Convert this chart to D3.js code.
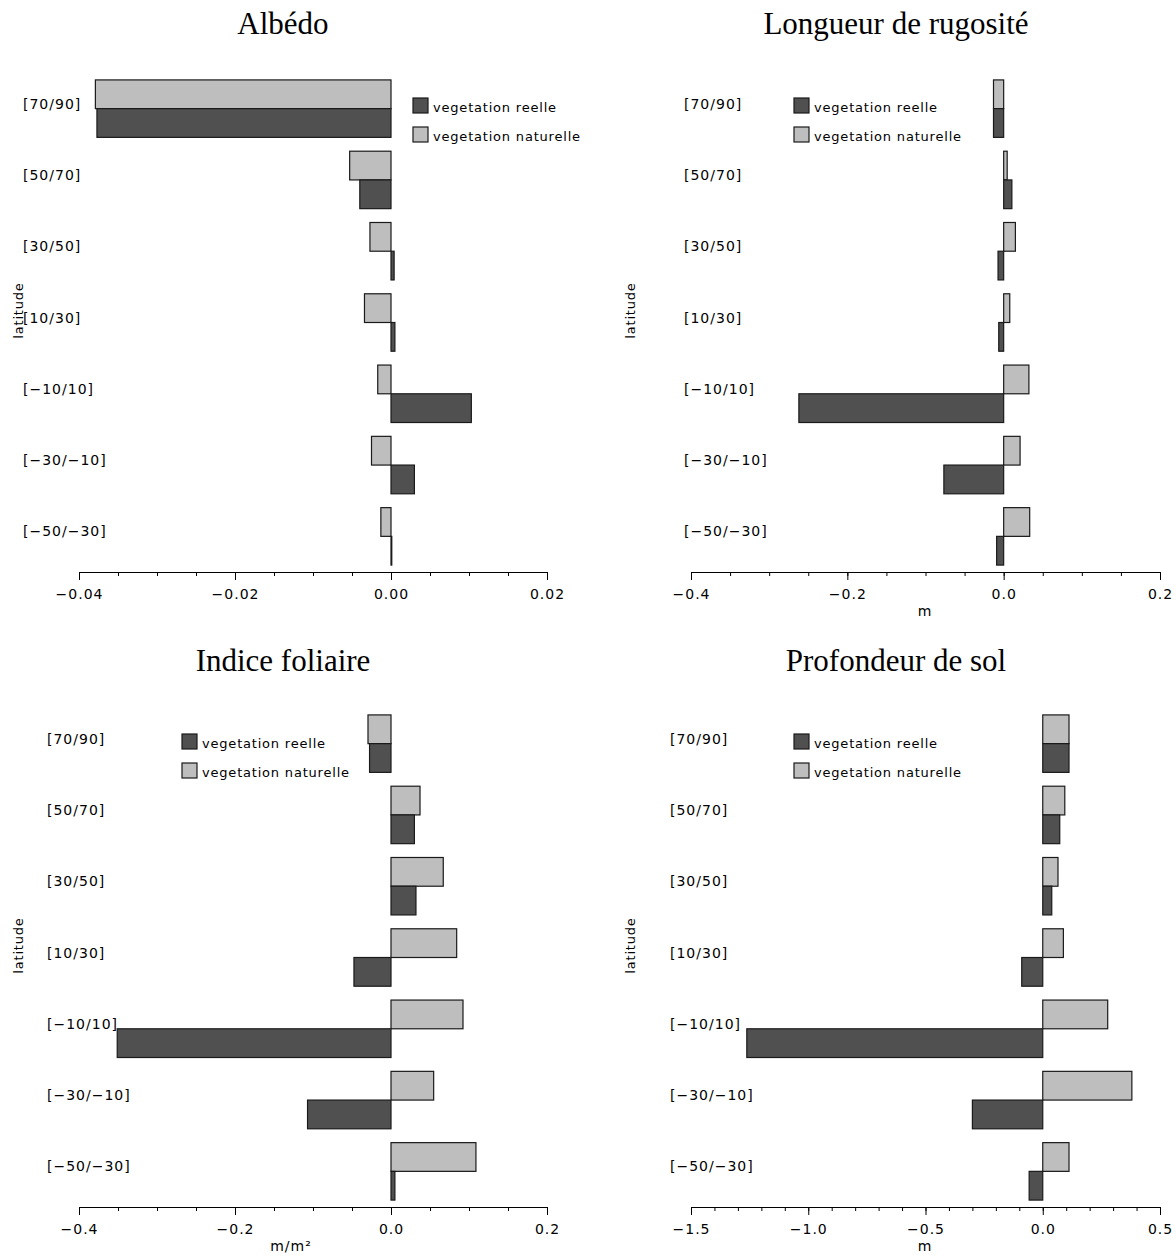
<!DOCTYPE html>
<html><head><meta charset="utf-8">
<script src="https://cdn.jsdelivr.net/npm/d3@7"></script>
<style>
body{margin:0;background:#fff;}
svg{display:block;}
.lab{font-family:"DejaVu Sans",sans-serif;font-size:14px;letter-spacing:1px;fill:#000;}
.leg{font-family:"DejaVu Sans",sans-serif;font-size:13px;letter-spacing:0.8px;fill:#000;}
.ttl{font-family:"Liberation Serif",serif;font-size:31px;fill:#000;}
</style></head><body>
<svg id="c" width="1176" height="1258"></svg>
<script>
const categories = ["[70/90]","[50/70]","[30/50]","[10/30]","[\u221210/10]","[\u221230/\u221210]","[\u221250/\u221230]"];
const seriesNames = ["vegetation reelle","vegetation naturelle"];

const albedoReelle    = [-0.0377, -0.0040, 0.0004, 0.0005, 0.0103, 0.0030, 0.0001];
const albedoNaturelle = [-0.0379, -0.0053, -0.0027, -0.0034, -0.0017, -0.0025, -0.0013];
const rugReelle       = [-0.013, 0.0105, -0.0072, -0.0063, -0.262, -0.0765, -0.009];
const rugNaturelle    = [-0.013, 0.0045, 0.0150, 0.0078, 0.0323, 0.0210, 0.0333];
const laiReelle       = [-0.0275, 0.0300, 0.0320, -0.0475, -0.351, -0.107, 0.005];
const laiNaturelle    = [-0.0295, 0.0372, 0.0670, 0.0842, 0.0923, 0.0547, 0.1089];
const solReelle       = [0.112, 0.0725, 0.0384, -0.0896, -1.262, -0.300, -0.058];
const solNaturelle    = [0.112, 0.094, 0.065, 0.088, 0.277, 0.380, 0.112];

const titles = ["Albédo","Longueur de rugosité","Indice foliaire","Profondeur de sol"];
const xDomains = [[-0.04,0.02],[-0.4,0.2],[-0.4,0.2],[-1.5,0.5]];
const majorSteps = [0.02,0.2,0.2,0.5];
const minorSteps = [0.005,0.05,0.05,0.1];
const tickFormats = [".2f",".1f",".1f",".1f"];
const xTitles = ["","m","m/m\u00B2","m"];

const panels = [
  {reelle: albedoReelle, naturelle: albedoNaturelle, x0:79, x1:547, y0:73, y1:572, titleX:283, titleY:34, labX:23, latX:18, legX:413, legY:98, xtX:0},
  {reelle: rugReelle, naturelle: rugNaturelle, x0:691, x1:1160, y0:73, y1:572, titleX:896, titleY:34, labX:684, latX:630, legX:794, legY:98, xtX:925},
  {reelle: laiReelle, naturelle: laiNaturelle, x0:79, x1:547, y0:708, y1:1207, titleX:283, titleY:671, labX:47, latX:18, legX:182, legY:734, xtX:291},
  {reelle: solReelle, naturelle: solNaturelle, x0:691, x1:1160, y0:708, y1:1207, titleX:896, titleY:671, labX:670, latX:630, legX:794, legY:734, xtX:925}
];

const DARK = "#505050", LIGHT = "#bebebe", STROKE = "#1a1a1a";
const svg = d3.select("#c");

function rangeTicks(lo, hi, step){
  const n = Math.round((hi-lo)/step);
  const out = [];
  for(let i=0;i<=n;i++) out.push(+(lo + i*step).toFixed(6));
  return out;
}

panels.forEach((p, i) => {
  const g = svg.append("g");
  const x = d3.scaleLinear().domain(xDomains[i]).range([p.x0, p.x1]);
  const y = d3.scaleBand().domain(categories).range([p.y0, p.y1]).paddingInner(0.194).paddingOuter(0.097);
  const ys = d3.scaleBand().domain(["naturelle","reelle"]).range([0, y.bandwidth()]);

  // bars
  const rows = categories.map((c, k) => ({c, reelle: p.reelle[k], naturelle: p.naturelle[k]}));
  ["naturelle","reelle"].forEach(s => {
    g.selectAll("rect."+s).data(rows).enter().append("rect")
      .attr("class", s)
      .attr("x", d => x(Math.min(0, d[s])))
      .attr("width", d => Math.abs(x(d[s]) - x(0)))
      .attr("y", d => y(d.c) + ys(s))
      .attr("height", ys.bandwidth())
      .attr("fill", s === "reelle" ? DARK : LIGHT)
      .attr("stroke", STROKE).attr("stroke-width", 1.2);
  });

  // category labels
  g.selectAll("text.cat").data(categories).enter().append("text")
    .attr("class","lab cat")
    .attr("x", p.labX)
    .attr("y", d => y(d) + y.bandwidth()/2)
    .text(d => d);

  // x axis
  const majors = rangeTicks(xDomains[i][0], xDomains[i][1], majorSteps[i]);
  const minors = rangeTicks(xDomains[i][0], xDomains[i][1], minorSteps[i]);
  const fmt = d3.format(tickFormats[i]);
  const axMinor = g.append("g").attr("transform", `translate(0,${p.y1})`)
    .call(d3.axisBottom(x).tickValues(minors).tickSize(4).tickFormat(""));
  axMinor.select(".domain").remove();
  const ax = g.append("g").attr("transform", `translate(0,${p.y1})`)
    .call(d3.axisBottom(x).tickValues(majors).tickSize(8).tickSizeOuter(0).tickPadding(9).tickFormat(d => fmt(d).replace("-", "\u2212")));
  ax.selectAll("text").attr("class","lab").attr("font-family", null).attr("font-size", null).attr("fill", null);
  ax.selectAll("line, path").attr("stroke", "#000").attr("stroke-width", 1);
  axMinor.selectAll("line").attr("stroke", "#000").attr("stroke-width", 1);

  if (xTitles[i]) {
    g.append("text").attr("class","lab")
      .attr("x", p.xtX)
      .attr("y", p.y1 + 44)
      .attr("text-anchor","middle")
      .text(xTitles[i]);
  }

  // y title
  g.append("text").attr("class","leg")
    .attr("transform", `translate(${p.latX + 5},${(p.y0+p.y1)/2 - 12}) rotate(-90)`)
    .attr("text-anchor","middle")
    .text("latitude");

  // title
  g.append("text").attr("class","ttl")
    .attr("x", p.titleX).attr("y", p.titleY)
    .attr("text-anchor","middle")
    .text(titles[i]);

  // legend
  const lg = g.append("g").attr("transform", `translate(${p.legX},${p.legY})`);
  seriesNames.forEach((nm, k) => {
    lg.append("rect").attr("x",0).attr("y", k*29).attr("width",15).attr("height",15)
      .attr("fill", k===0 ? DARK : LIGHT).attr("stroke", STROKE).attr("stroke-width",1.2);
    lg.append("text").attr("class","leg").attr("x", 20).attr("y", k*29 + 14).text(nm);
  });
});
</script>
</body></html>
